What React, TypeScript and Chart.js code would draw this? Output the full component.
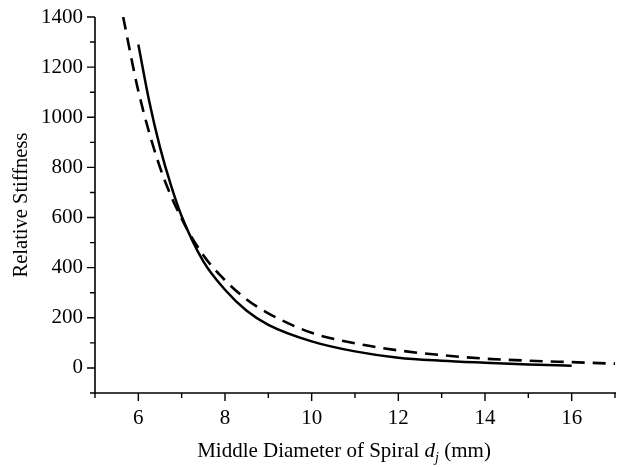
import React, { useEffect, useRef } from 'react';
import { Chart, registerables } from 'chart.js';

Chart.register(...registerables);

const solidX = [6, 6.25, 6.5, 6.75, 7, 7.5, 8, 8.5, 9, 10, 11, 12, 13, 14, 15, 16];
const solidY = [1290, 1065, 880, 730, 605, 425, 312, 228, 172, 106, 66, 41, 29, 21, 14, 9];
const dashX = [5.65, 6, 6.5, 7, 7.5, 8, 8.5, 9, 10, 11, 12, 13, 14, 15, 16, 17];
const dashY = [1400, 1105, 800, 595, 450, 350, 273, 218, 140, 98, 70, 51, 37, 29, 23, 17];
const xMajor = [6, 8, 10, 12, 14, 16];
const xMinor = [5, 7, 9, 11, 13, 15, 17];
const yMajor = [0, 200, 400, 600, 800, 1000, 1200, 1400];
const yMinor = [-100, 100, 300, 500, 700, 900, 1100, 1300];
const yTitle = 'Relative Stiffness';
const xTitleParts = [
  { text: 'Middle Diameter of Spiral ', italic: false, sub: false },
  { text: 'd', italic: true, sub: false },
  { text: 'j', italic: true, sub: true },
  { text: ' (mm)', italic: false, sub: false },
];

const FONT = '"Liberation Serif", "Times New Roman", serif';

const axesPlugin = {
  id: 'axesPlugin',
  afterDraw(chart: any) {
    const ctx = chart.ctx;
    const { left, right, top, bottom } = chart.chartArea;
    const xs = chart.scales.x;
    const ys = chart.scales.y;
    ctx.save();
    ctx.strokeStyle = '#000';
    ctx.lineWidth = 1.6;
    ctx.beginPath();
    ctx.moveTo(left, top);
    ctx.lineTo(left, bottom);
    ctx.lineTo(right + 1, bottom);
    ctx.stroke();
    ctx.lineWidth = 1.4;
    ctx.beginPath();
    xMajor.forEach((v) => {
      const p = xs.getPixelForValue(v);
      ctx.moveTo(p, bottom);
      ctx.lineTo(p, bottom + 8);
    });
    xMinor.forEach((v) => {
      const p = xs.getPixelForValue(v);
      ctx.moveTo(p, bottom);
      ctx.lineTo(p, bottom + 5);
    });
    yMajor.forEach((v) => {
      const p = ys.getPixelForValue(v);
      ctx.moveTo(left, p);
      ctx.lineTo(left - 8, p);
    });
    yMinor.forEach((v) => {
      const p = ys.getPixelForValue(v);
      ctx.moveTo(left, p);
      ctx.lineTo(left - 5, p);
    });
    ctx.stroke();

    ctx.fillStyle = '#000';
    ctx.save();
    ctx.translate(27, (top + bottom) / 2);
    ctx.rotate(-Math.PI / 2);
    ctx.font = `20.5px ${FONT}`;
    ctx.textAlign = 'center';
    ctx.textBaseline = 'alphabetic';
    ctx.fillText(yTitle, 0, 0);
    ctx.restore();

    const fontFor = (p: any) =>
      `${p.italic ? 'italic ' : ''}${p.sub ? 14 : 21}px ${FONT}`;
    let total = 0;
    const widths = xTitleParts.map((p) => {
      ctx.font = fontFor(p);
      const w = ctx.measureText(p.text).width;
      total += w;
      return w;
    });
    let x = left + 249 - total / 2;
    const baseY = 457;
    ctx.textAlign = 'left';
    ctx.textBaseline = 'alphabetic';
    xTitleParts.forEach((p, i) => {
      ctx.font = fontFor(p);
      ctx.fillText(p.text, x, p.sub ? baseY + 5 : baseY);
      x += widths[i];
    });
    ctx.restore();
  },
};

export default function App() {
  const ref = useRef<HTMLCanvasElement>(null);
  useEffect(() => {
    document.body.style.margin = '0';
    const canvas = ref.current;
    if (!canvas) return;
    const chart = new Chart(canvas, {
      type: 'line',
      data: {
        datasets: [
          {
            label: 'solid',
            data: solidX.map((x, i) => ({ x, y: solidY[i] })),
            borderColor: '#000',
            borderWidth: 2.5,
            pointRadius: 0,
            cubicInterpolationMode: 'monotone',
            fill: false,
          },
          {
            label: 'dashed',
            data: dashX.map((x, i) => ({ x, y: dashY[i] })),
            borderColor: '#000',
            borderWidth: 2.6,
            borderDash: [13, 8],
            pointRadius: 0,
            cubicInterpolationMode: 'monotone',
            fill: false,
          },
        ],
      },
      options: {
        animation: false,
        responsive: true,
        maintainAspectRatio: false,
        layout: { padding: { top: 17, right: 3, left: 0, bottom: 0 } },
        plugins: { legend: { display: false }, tooltip: { enabled: false } },
        scales: {
          x: {
            type: 'linear',
            min: 5,
            max: 17,
            grid: { display: false },
            border: { display: false },
            afterFit: (s: any) => {
              s.height = 74;
            },
            afterBuildTicks: (s: any) => {
              s.ticks = xMajor.map((v) => ({ value: v }));
            },
            ticks: {
              color: '#000',
              padding: 5,
              maxRotation: 0,
              autoSkip: false,
              callback: (v: any) => String(v),
              font: { family: FONT, size: 21 },
            },
          },
          y: {
            type: 'linear',
            min: -100,
            max: 1400,
            grid: { display: false },
            border: { display: false },
            afterFit: (s: any) => {
              s.width = 95;
            },
            afterBuildTicks: (s: any) => {
              s.ticks = yMajor.map((v) => ({ value: v }));
            },
            ticks: {
              color: '#000',
              padding: 4,
              autoSkip: false,
              callback: (v: any) => String(v),
              font: { family: FONT, size: 21 },
            },
          },
        },
      },
      plugins: [axesPlugin],
    } as any);
    return () => chart.destroy();
  }, []);
  return (
    <div style={{ position: 'absolute', left: 0, top: 0, width: 618, height: 467, background: '#fff' }}>
      <canvas ref={ref} />
    </div>
  );
}
